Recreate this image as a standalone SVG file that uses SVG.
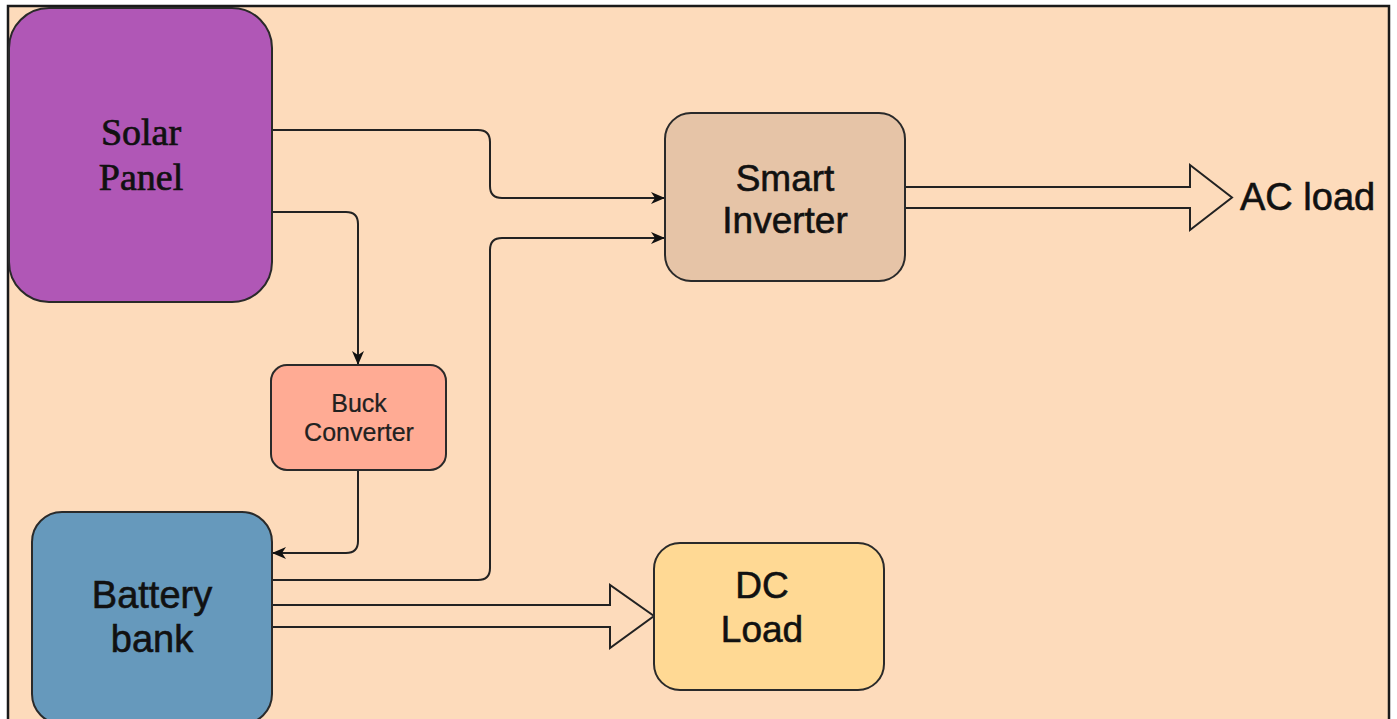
<svg xmlns="http://www.w3.org/2000/svg" width="1397" height="719" viewBox="0 0 1397 719">
  <defs>
    <marker id="arrow" viewBox="0 0 14 12" refX="14" refY="6" markerWidth="14" markerHeight="12" markerUnits="userSpaceOnUse" orient="auto">
      <path d="M0,0 L14,6 L0,12 L4,6 Z" fill="#111"/>
    </marker>
  </defs>
  <style>
    .node { stroke: #2a2a2a; stroke-width: 2; }
    .wire { fill: none; stroke: #222; stroke-width: 2; }
    .block { fill: #fddbbb; stroke: #222; stroke-width: 2; stroke-linejoin: miter; }
    .sans { font-family: "Liberation Sans", Arial, sans-serif; fill: #111; stroke: #111; stroke-width: 0.6; text-anchor: middle; }
    .serif { font-family: "Liberation Serif", "Times New Roman", serif; fill: #111; stroke: #111; stroke-width: 0.7; text-anchor: middle; }
    .small { stroke-width: 0.2; fill: #222; }
  </style>

  <!-- page -->
  <rect x="0" y="0" width="1397" height="719" fill="#ffffff"/>
  <rect x="8" y="6" width="1381" height="740" fill="#fddbbb" stroke="#1a1a1a" stroke-width="2.5"/>

  <!-- connectors -->
  <g id="connectors">
    <path class="wire" d="M272,130 H478 Q490,130 490,142 V186 Q490,198 502,198 H665" marker-end="url(#arrow)"/>
    <path class="wire" d="M272,212 H346 Q358,212 358,224 V365" marker-end="url(#arrow)"/>
    <path class="wire" d="M272,580 H478 Q490,580 490,568 V250 Q490,238 502,238 H665" marker-end="url(#arrow)"/>
    <path class="wire" d="M358,470 V541 Q358,553 346,553 H272" marker-end="url(#arrow)"/>
    <!-- wide hollow arrow: battery to DC load -->
    <path class="block" d="M272,605 H610 V585 L654,616 L610,648 V627 H272"/>
    <!-- wide hollow arrow: inverter to AC load -->
    <path class="block" d="M905,187 H1190 V165 L1232,197.5 L1190,230 V208 H905"/>
  </g>

  <g id="solar-panel">
    <rect class="node" x="9" y="8" width="263" height="294" rx="40" fill="#b057b6"/>
    <text class="serif" x="141" y="145" font-size="38">Solar</text>
    <text class="serif" x="141" y="190" font-size="38">Panel</text>
  </g>

  <g id="smart-inverter">
    <rect class="node" x="665" y="113" width="240" height="168" rx="26" fill="#e6c4a7"/>
    <text class="sans" x="785" y="191" font-size="37">Smart</text>
    <text class="sans" x="785" y="233" font-size="37">Inverter</text>
  </g>

  <g id="buck-converter">
    <rect class="node" x="271" y="365" width="175" height="105" rx="16" fill="#ffab94"/>
    <text class="sans small" x="359" y="412" font-size="25">Buck</text>
    <text class="sans small" x="359" y="441" font-size="25">Converter</text>
  </g>

  <g id="battery-bank">
    <rect class="node" x="32" y="512" width="240" height="212" rx="30" fill="#6699bc"/>
    <text class="sans" x="152" y="608" font-size="38">Battery</text>
    <text class="sans" x="152" y="652" font-size="38">bank</text>
  </g>

  <g id="dc-load">
    <rect class="node" x="654" y="543" width="230" height="147" rx="26" fill="#ffd994"/>
    <text class="sans" x="762" y="598" font-size="37">DC</text>
    <text class="sans" x="762" y="642" font-size="37">Load</text>
  </g>

  <g id="ac-load">
    <text class="sans" x="1240" y="210" font-size="38" style="text-anchor:start">AC load</text>
  </g>
</svg>
